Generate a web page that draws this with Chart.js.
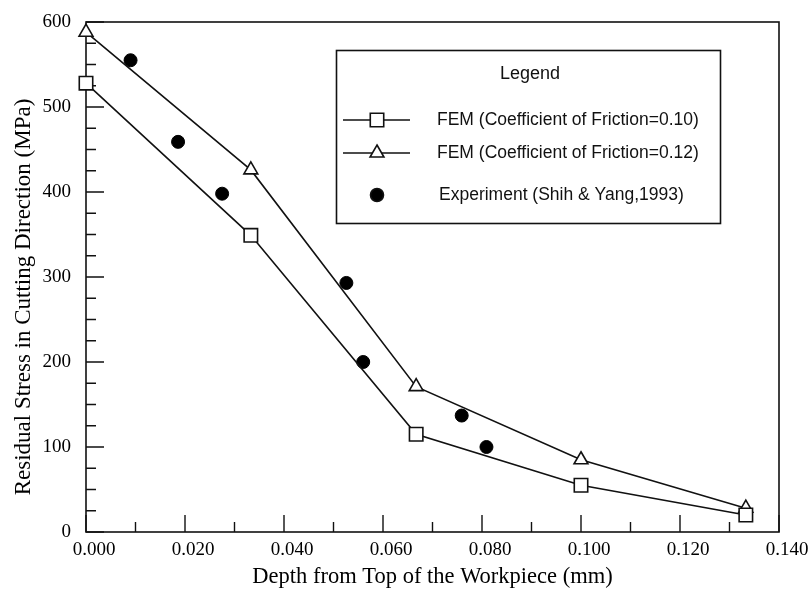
<!DOCTYPE html>
<html><head><meta charset="utf-8">
<script src="https://cdn.jsdelivr.net/npm/chart.js@4/dist/chart.umd.min.js"></script>
<style>html,body{margin:0;padding:0;background:#fff}#wrap{width:811px;height:595px}</style>
</head><body><div id="wrap"><canvas id="c" width="811" height="595"></canvas></div>
<script>
// ---- data ----
const depthFEM = [0, 0.0333, 0.0667, 0.1, 0.1333];
const stressFric010 = [528, 349, 115, 55, 20];
const stressFric012 = [588, 426, 171, 85, 28];
const depthExp = [0.009, 0.0186, 0.0275, 0.0526, 0.056, 0.0759, 0.0809];
const stressExp = [555, 459, 398, 293, 200, 137, 100];
const xTickValues = [0, 0.02, 0.04, 0.06, 0.08, 0.10, 0.12, 0.14];
const yTickValues = [0, 100, 200, 300, 400, 500, 600];
const seriesLabels = [
  'FEM (Coefficient of Friction=0.10)',
  'FEM (Coefficient of Friction=0.12)',
  'Experiment (Shih & Yang,1993)'
];
const legendTitle = 'Legend';
const xTitle = 'Depth from Top of the Workpiece (mm)';
const yTitle = 'Residual Stress in Cutting Direction (MPa)';

const INK = '#111';
const SERIF = '"Liberation Serif", "Times New Roman", serif';
const SANS = '"Liberation Sans", Arial, sans-serif';
const pts = (xs, ys) => xs.map((x, i) => ({x, y: ys[i]}));

const datasets = [
  {label: seriesLabels[0], data: pts(depthFEM, stressFric010), borderColor: INK, borderWidth: 1.6, clip: false,
   pointStyle: 'rect', pointRadius: 9.5, pointBackgroundColor: '#fff', pointBorderColor: INK, pointBorderWidth: 1.6, tension: 0},
  {label: seriesLabels[1], data: pts(depthFEM, stressFric012), borderColor: INK, borderWidth: 1.6, clip: false,
   pointStyle: 'triangle', pointRadius: 8, pointBackgroundColor: '#fff', pointBorderColor: INK, pointBorderWidth: 1.6, tension: 0},
  {label: seriesLabels[2], data: pts(depthExp, stressExp), showLine: false, borderColor: INK, clip: false,
   pointStyle: 'circle', pointRadius: 6.5, pointBackgroundColor: '#000', pointBorderColor: '#000', pointBorderWidth: 1}
];

function drawMarker(ctx, style, r, x, y, fill) {
  ctx.save();
  ctx.lineWidth = 1.6; ctx.strokeStyle = INK; ctx.fillStyle = fill;
  ctx.beginPath();
  if (style === 'rect') {
    const s = Math.SQRT1_2 * r; ctx.rect(x - s, y - s, 2 * s, 2 * s);
  } else if (style === 'triangle') {
    for (let k = 0; k < 3; k++) {
      const a = -Math.PI / 2 + k * 2 * Math.PI / 3;
      const px = x + Math.cos(a) * r, py = y + Math.sin(a) * r;
      k ? ctx.lineTo(px, py) : ctx.moveTo(px, py);
    }
    ctx.closePath();
  } else {
    ctx.arc(x, y, r, 0, Math.PI * 2);
  }
  ctx.fill(); ctx.stroke();
  ctx.restore();
}

const framePlugin = {
  id: 'frameTicks',
  beforeDraw(chart) {
    const ctx = chart.ctx;
    ctx.save(); ctx.fillStyle = '#fff'; ctx.fillRect(0, 0, chart.width, chart.height); ctx.restore();
  },
  beforeDatasetsDraw(chart) {
    const {ctx, chartArea: a, scales: {x, y}} = chart;
    ctx.save();
    ctx.strokeStyle = INK; ctx.lineWidth = 1.6;
    ctx.strokeRect(a.left, a.top, a.right - a.left, a.bottom - a.top);
    ctx.lineWidth = 1.4;
    ctx.beginPath();
    xTickValues.forEach((v, i) => {
      const px = x.getPixelForValue(v);
      ctx.moveTo(px, a.bottom); ctx.lineTo(px, a.bottom - 17);
      if (i < xTickValues.length - 1) {
        const m = x.getPixelForValue((v + xTickValues[i + 1]) / 2);
        ctx.moveTo(m, a.bottom); ctx.lineTo(m, a.bottom - 10);
      }
    });
    yTickValues.forEach((v, i) => {
      const py = y.getPixelForValue(v);
      ctx.moveTo(a.left, py); ctx.lineTo(a.left + 18, py);
      if (i < yTickValues.length - 1) {
        const step = (yTickValues[i + 1] - v) / 4;
        for (let k = 1; k < 4; k++) {
          const m = y.getPixelForValue(v + k * step);
          ctx.moveTo(a.left, m); ctx.lineTo(a.left + 10, m);
        }
      }
    });
    ctx.stroke();

    // y-axis title (rotated), placed like the reference (slightly below the plot centre)
    ctx.save();
    ctx.translate(24, 297);
    ctx.rotate(-Math.PI / 2);
    ctx.fillStyle = '#000';
    ctx.font = '23px ' + SERIF;
    ctx.textAlign = 'center'; ctx.textBaseline = 'middle';
    ctx.fillText(yTitle, 0, 0);
    ctx.restore();

    // legend box
    const L = {left: 336, top: 50, right: 720, bottom: 223};
    ctx.lineWidth = 1.6;
    ctx.strokeRect(L.left + 0.5, L.top + 0.5, L.right - L.left, L.bottom - L.top);
    ctx.fillStyle = INK;
    ctx.textBaseline = 'middle';
    ctx.textAlign = 'center';
    ctx.font = '18px ' + SANS;
    ctx.fillText(legendTitle, 530, 74);
    ctx.textAlign = 'left';
    const rows = [
      {y: 120, style: 'rect', r: 9.5, fill: '#fff', line: true, tx: 437},
      {y: 153, style: 'triangle', r: 8, fill: '#fff', line: true, tx: 437},
      {y: 195, style: 'circle', r: 6.5, fill: '#000', line: false, tx: 439}
    ];
    rows.forEach((row, i) => {
      if (row.line) {
        ctx.lineWidth = 1.6; ctx.beginPath();
        ctx.moveTo(343, row.y); ctx.lineTo(410, row.y); ctx.stroke();
      }
      drawMarker(ctx, row.style, row.r, 377, row.y, row.fill);
      ctx.fillStyle = INK;
      ctx.font = '17.5px ' + SANS;
      ctx.fillText(seriesLabels[i], row.tx, row.y);
    });
    ctx.restore();
  }
};

new Chart(document.getElementById('c'), {
  type: 'line',
  data: {datasets},
  plugins: [framePlugin],
  options: {
    responsive: false, animation: false, devicePixelRatio: 1,
    layout: {padding: {top: 22, right: 32, left: 0, bottom: 0}},
    plugins: {legend: {display: false}, tooltip: {enabled: false}},
    scales: {
      x: {
        type: 'linear', min: 0, max: 0.14,
        afterBuildTicks: s => { s.ticks = xTickValues.map(v => ({value: v})); },
        afterFit: s => { s.height = 63; s.paddingLeft = 0; s.paddingRight = 0; },
        grid: {display: false, drawTicks: false},
        border: {display: false},
        ticks: {padding: 7, labelOffset: 8, color: '#000', font: {family: SERIF, size: 19},
                callback: v => Number(v).toFixed(3), maxRotation: 0, autoSkip: false},
        title: {display: true, text: xTitle, color: '#000', padding: {top: 0, bottom: 4},
                font: {family: SERIF, size: 22.5}}
      },
      y: {
        type: 'linear', min: 0, max: 600,
        afterBuildTicks: s => { s.ticks = yTickValues.map(v => ({value: v})); },
        afterFit: s => { s.width = 86; s.paddingTop = 0; s.paddingBottom = 0; },
        grid: {display: false, drawTicks: false},
        border: {display: false},
        ticks: {padding: 15, color: '#000', font: {family: SERIF, size: 19},
                callback: v => String(v), autoSkip: false},
        title: {display: false, text: yTitle}
      }
    }
  }
});
</script></body></html>
